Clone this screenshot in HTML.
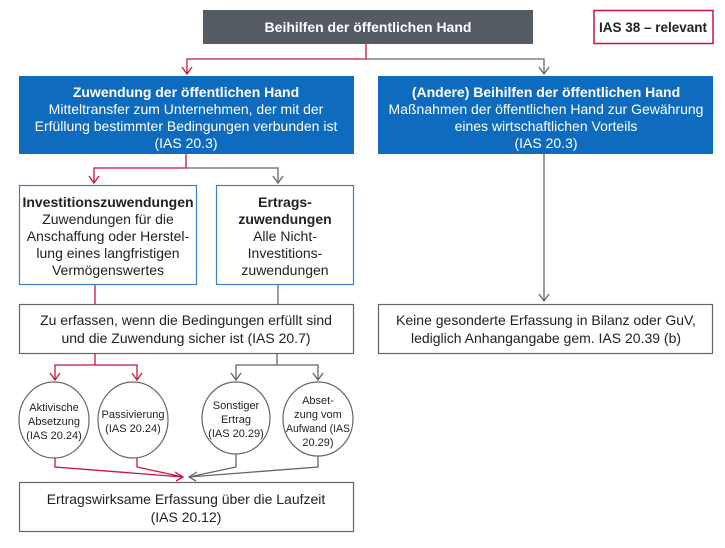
<!DOCTYPE html>
<html><head><meta charset="utf-8"><style>
html,body{margin:0;padding:0;background:#fff;}
svg{display:block;}
text{font-family:"Liberation Sans Narrow","Liberation Sans",sans-serif;text-anchor:middle;}
</style></head><body>
<svg width="725" height="548" viewBox="0 0 725 548" xmlns="http://www.w3.org/2000/svg">
<!-- top -->
<rect x="203" y="10" width="330" height="34" fill="#555b63"/>
<text x="368" y="32" fill="#fff" font-size="14" font-weight="bold">Beihilfen der öffentlichen Hand</text>
<rect x="594" y="10.5" width="119" height="33" fill="#fff" stroke="#c8143c" stroke-width="1.5"/>
<text x="653" y="32" fill="#222" font-size="13.5" font-weight="bold">IAS 38 – relevant</text>
<!-- connectors top -->
<path d="M366,44 V59 H187 V74" fill="none" stroke="#c8143c" stroke-width="1.3"/>
<path d="M366,59 H544 V74" fill="none" stroke="#666" stroke-width="1.3"/>
<path d="M182,67 L187,74 L192,67" fill="none" stroke="#c8143c" stroke-width="1.3"/>
<path d="M539,67 L544,74 L549,67" fill="none" stroke="#666" stroke-width="1.3"/>
<!-- blue boxes -->
<rect x="19" y="76" width="335" height="78" fill="#0f6bbd"/>
<text x="186" y="97" fill="#fff" font-size="14" font-weight="bold">Zuwendung der öffentlichen Hand</text>
<text x="186" y="114" fill="#fff" font-size="14">Mitteltransfer zum Unternehmen, der mit der</text>
<text x="186" y="131" fill="#fff" font-size="14">Erfüllung bestimmter Bedingungen verbunden ist</text>
<text x="186" y="148" fill="#fff" font-size="14">(IAS 20.3)</text>
<rect x="378" y="76" width="335" height="78" fill="#0f6bbd"/>
<text x="546" y="97" fill="#fff" font-size="14" font-weight="bold">(Andere) Beihilfen der öffentlichen Hand</text>
<text x="546" y="114" fill="#fff" font-size="14">Maßnahmen der öffentlichen Hand zur Gewährung</text>
<text x="546" y="131" fill="#fff" font-size="14">eines wirtschaftlichen Vorteils</text>
<text x="546" y="148" fill="#fff" font-size="14">(IAS 20.3)</text>
<!-- connectors from left blue -->
<path d="M186,154 V168 H94 V183" fill="none" stroke="#c8143c" stroke-width="1.3"/>
<path d="M186,168 H278 V183" fill="none" stroke="#666" stroke-width="1.3"/>
<path d="M89,176 L94,183 L99,176" fill="none" stroke="#c8143c" stroke-width="1.3"/>
<path d="M273,176 L278,183 L283,176" fill="none" stroke="#666" stroke-width="1.3"/>
<!-- right stem -->
<path d="M544,154 V301" fill="none" stroke="#666" stroke-width="1.3"/>
<path d="M539,294 L544,301 L549,294" fill="none" stroke="#666" stroke-width="1.3"/>
<!-- second level -->
<rect x="19.5" y="185.5" width="177" height="99" fill="#fff" stroke="#3a7fc1" stroke-width="1.2"/>
<text x="108" y="207" fill="#222" font-size="14" font-weight="bold">Investitionszuwendungen</text>
<text x="108" y="224" fill="#222" font-size="14">Zuwendungen für die</text>
<text x="108" y="241" fill="#222" font-size="14">Anschaffung oder Herstel-</text>
<text x="108" y="258" fill="#222" font-size="14">lung eines langfristigen</text>
<text x="108" y="275" fill="#222" font-size="14">Vermögenswertes</text>
<rect x="216.5" y="185.5" width="137" height="99" fill="#fff" stroke="#3a7fc1" stroke-width="1.2"/>
<text x="285" y="207" fill="#222" font-size="14" font-weight="bold">Ertrags-</text>
<text x="285" y="224" fill="#222" font-size="14" font-weight="bold">zuwendungen</text>
<text x="285" y="241" fill="#222" font-size="14">Alle Nicht-</text>
<text x="285" y="258" fill="#222" font-size="14">Investitions-</text>
<text x="285" y="275" fill="#222" font-size="14">zuwendungen</text>
<path d="M95,285 V304" stroke="#c8143c" stroke-width="1.3"/>
<path d="M278,285 V304" stroke="#666" stroke-width="1.3"/>
<!-- Zu erfassen -->
<rect x="19.5" y="304.5" width="334" height="49" fill="#fff" stroke="#666" stroke-width="1.2"/>
<text x="186" y="325" fill="#222" font-size="14">Zu erfassen, wenn die Bedingungen erfüllt sind</text>
<text x="186" y="343" fill="#222" font-size="14">und die Zuwendung sicher ist (IAS 20.7)</text>
<rect x="378.5" y="304.5" width="334" height="49" fill="#fff" stroke="#666" stroke-width="1.2"/>
<text x="546" y="325" fill="#222" font-size="14">Keine gesonderte Erfassung in Bilanz oder GuV,</text>
<text x="546" y="343" fill="#222" font-size="14">lediglich Anhangangabe gem. IAS 20.39 (b)</text>
<!-- to circles -->
<path d="M95,354 V365 M55,380 V365 H137 V380" fill="none" stroke="#c8143c" stroke-width="1.3"/>
<path d="M50,373 L55,380 L60,373 M132,373 L137,380 L142,373" fill="none" stroke="#c8143c" stroke-width="1.3"/>
<path d="M277,354 V365 M236,380 V365 H318 V380" fill="none" stroke="#666" stroke-width="1.3"/>
<path d="M231,373 L236,380 L241,373 M313,373 L318,380 L323,373" fill="none" stroke="#666" stroke-width="1.3"/>
<!-- circles -->
<ellipse cx="54" cy="420" rx="35" ry="38" fill="#fff" stroke="#666" stroke-width="1.2"/>
<ellipse cx="133" cy="420" rx="35" ry="38" fill="#fff" stroke="#666" stroke-width="1.2"/>
<ellipse cx="236" cy="418" rx="34" ry="36" fill="#fff" stroke="#666" stroke-width="1.2"/>
<ellipse cx="318" cy="419" rx="35" ry="37" fill="#fff" stroke="#666" stroke-width="1.2"/>
<g font-size="11" fill="#222">
<text x="54" y="411">Aktivische</text><text x="54" y="425">Absetzung</text><text x="54" y="439">(IAS 20.24)</text>
<text x="133" y="418">Passivierung</text><text x="133" y="432">(IAS 20.24)</text>
<text x="236" y="409">Sonstiger</text><text x="236" y="423">Ertrag</text><text x="236" y="437">(IAS 20.29)</text>
<text x="318" y="404">Abset-</text><text x="318" y="418">zung vom</text><text x="318" y="432" textLength="64" lengthAdjust="spacingAndGlyphs">Aufwand (IAS</text><text x="318" y="446">20.29)</text>
</g>
<!-- converge -->
<path d="M55,458 V467 L183,477 M137,458 V467 L183,477" fill="none" stroke="#c8143c" stroke-width="1.3"/>
<path d="M236,454 V467 L189,477 M318,456 V467 L189,477" fill="none" stroke="#666" stroke-width="1.3"/>
<path d="M175,472 L183,477 L176,481" fill="none" stroke="#c8143c" stroke-width="1.3"/>
<path d="M197,472 L189,477 L196,481" fill="none" stroke="#666" stroke-width="1.3"/>
<!-- final -->
<rect x="19.5" y="482.5" width="334" height="49" fill="#fff" stroke="#666" stroke-width="1.2"/>
<text x="186" y="504" fill="#222" font-size="14">Ertragswirksame Erfassung über die Laufzeit</text>
<text x="186" y="522" fill="#222" font-size="14">(IAS 20.12)</text>
</svg>
</body></html>
